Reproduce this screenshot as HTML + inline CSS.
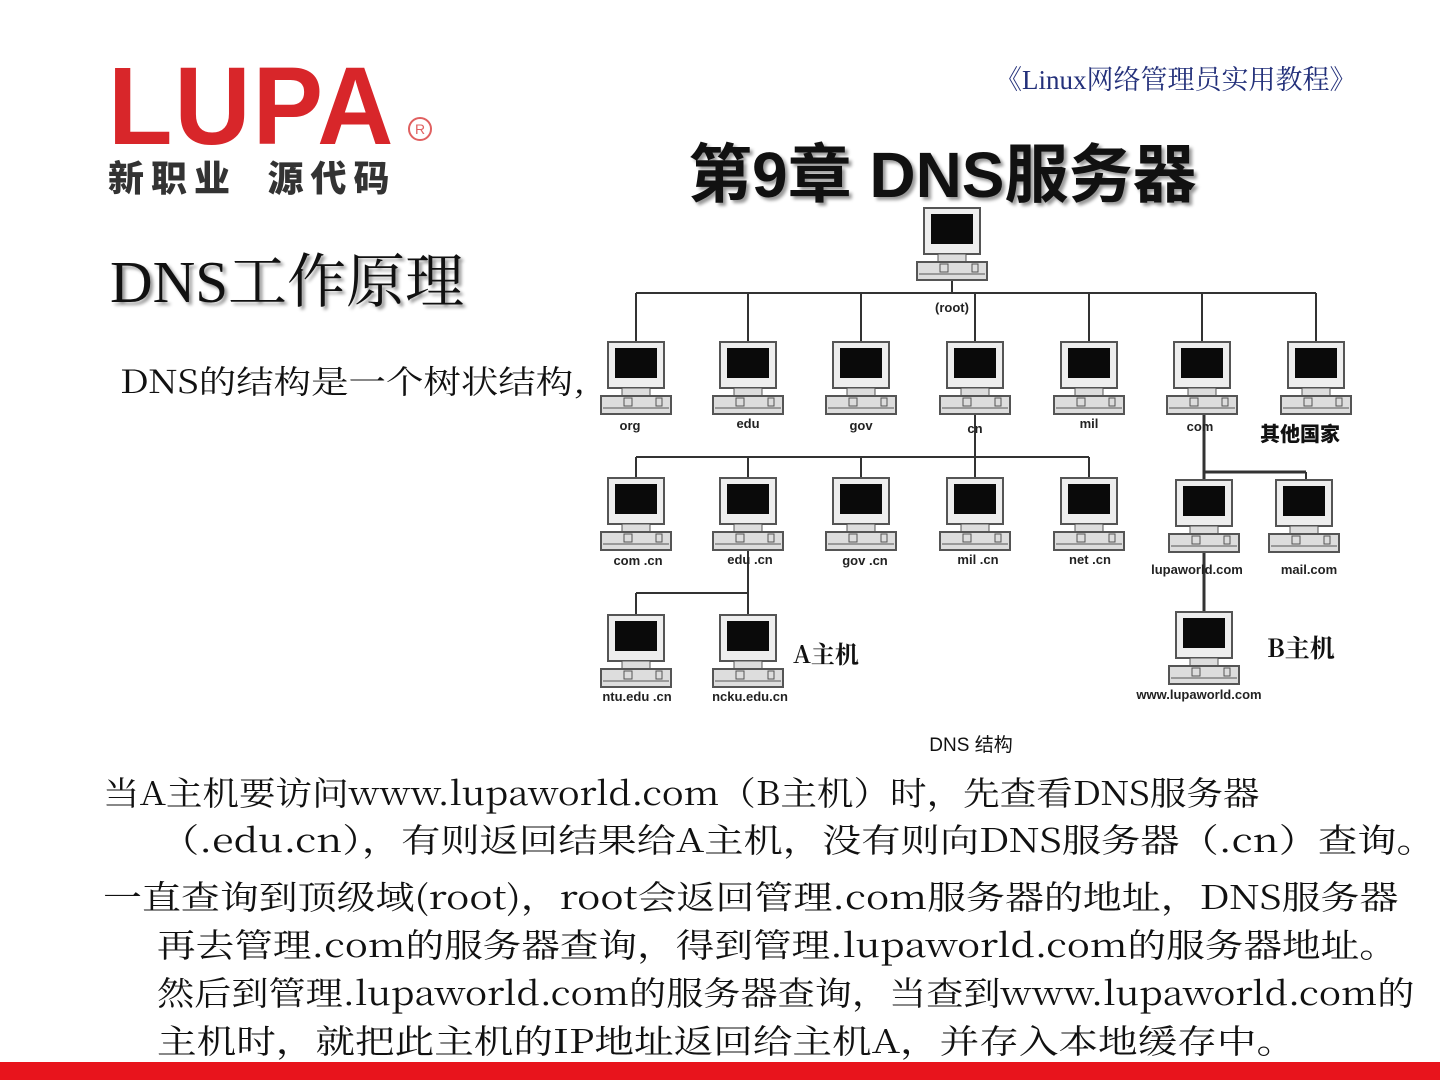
<!DOCTYPE html>
<html><head><meta charset="utf-8"><style>
body{margin:0;width:1440px;height:1080px;background:#fff;position:relative;overflow:hidden;font-family:"Liberation Serif","Noto Serif CJK SC",serif}
.a{position:absolute;white-space:nowrap}
.t{font-size:33px;color:#111;font-family:"Noto Serif CJK SC",serif;line-height:1;transform-origin:left}
.lbl{font-family:"Liberation Sans",sans-serif;font-size:13px;font-weight:bold;fill:#222}
</style></head><body>
<div class="a" style="left:108px;top:52px;font-family:'Liberation Sans',sans-serif;font-weight:900;font-size:110px;color:#d8262a;letter-spacing:2px;line-height:1;transform:scaleX(0.96);transform-origin:left">LUPA</div>
<div class="a" style="left:408px;top:117px;width:20px;height:20px;border:2px solid #e06060;border-radius:50%;color:#e06060;font:14px 'Liberation Sans',sans-serif;text-align:center;line-height:20px">R</div>
<div class="a" style="left:108px;top:150px;font-family:'Noto Sans CJK SC',sans-serif;font-weight:900;font-size:36px;color:#333;letter-spacing:7px">新职业&nbsp;&nbsp;源代码</div>
<div class="a" style="left:110px;top:234px;font-family:'Liberation Serif','Noto Serif CJK SC',serif;font-size:59px;color:#111;text-shadow:3px 3px 3px #999">DNS工作原理</div>
<div class="a" style="left:995px;top:58px;font-size:27px;color:#23307a;font-family:'Liberation Serif','Noto Serif CJK SC',serif">《Linux网络管理员实用教程》</div>
<div class="a" style="left:688px;top:124px;font-family:'Liberation Sans','Noto Sans CJK SC',sans-serif;font-weight:bold;font-size:64px;color:#111;text-shadow:3px 3px 3px #999;letter-spacing:0px">第9章 DNS服务器</div>
<div class="a t" style="left:120px;top:364px;font-size:32px;transform:scaleX(1.17)">DNS的结构是一个树状结构,</div>

<svg class="a" style="left:0;top:0" width="1440" height="1080">
<defs>
<g id="pc">
<rect x="-28" y="0" width="56" height="46" fill="#eee" stroke="#555" stroke-width="2"/>
<rect x="-21" y="6" width="42" height="30" fill="#0a0a0a"/>
<rect x="-14" y="46" width="28" height="8" fill="#ddd" stroke="#555"/>
<rect x="-35" y="54" width="70" height="18" fill="#ddd" stroke="#555" stroke-width="2"/>
<line x1="-33" y1="66" x2="33" y2="66" stroke="#555"/>
<rect x="-12" y="56" width="8" height="8" fill="none" stroke="#555"/>
<rect x="20" y="56" width="6" height="8" fill="none" stroke="#555"/>
</g>
</defs>
<g stroke="#333" stroke-width="2" fill="none">
<line x1="952" y1="272" x2="952" y2="293"/>
<line x1="636" y1="293" x2="1316" y2="293"/>
<line x1="636" y1="293" x2="636" y2="342"/><line x1="748" y1="293" x2="748" y2="342"/><line x1="861" y1="293" x2="861" y2="342"/><line x1="975" y1="293" x2="975" y2="342"/><line x1="1089" y1="293" x2="1089" y2="342"/><line x1="1202" y1="293" x2="1202" y2="342"/><line x1="1316" y1="293" x2="1316" y2="342"/>
<line x1="975" y1="414" x2="975" y2="457"/>
<line x1="636" y1="457" x2="1089" y2="457"/>
<line x1="636" y1="457" x2="636" y2="478"/><line x1="748" y1="457" x2="748" y2="478"/><line x1="861" y1="457" x2="861" y2="478"/><line x1="975" y1="457" x2="975" y2="478"/><line x1="1089" y1="457" x2="1089" y2="478"/>
<line x1="1204" y1="414" x2="1204" y2="480" stroke-width="3"/>
<line x1="1204" y1="472" x2="1306" y2="472" stroke-width="3"/>
<line x1="1306" y1="472" x2="1306" y2="480"/>
<line x1="748" y1="550" x2="748" y2="615"/>
<line x1="636" y1="593" x2="748" y2="593"/>
<line x1="636" y1="593" x2="636" y2="615"/>
<line x1="1204" y1="552" x2="1204" y2="612" stroke-width="3"/>
</g>
<use href="#pc" x="952" y="208"/>
<use href="#pc" x="636" y="342"/><use href="#pc" x="748" y="342"/><use href="#pc" x="861" y="342"/><use href="#pc" x="975" y="342"/><use href="#pc" x="1089" y="342"/><use href="#pc" x="1202" y="342"/><use href="#pc" x="1316" y="342"/>
<use href="#pc" x="636" y="478"/><use href="#pc" x="748" y="478"/><use href="#pc" x="861" y="478"/><use href="#pc" x="975" y="478"/><use href="#pc" x="1089" y="478"/><use href="#pc" x="1204" y="480"/><use href="#pc" x="1304" y="480"/>
<use href="#pc" x="636" y="615"/><use href="#pc" x="748" y="615"/><use href="#pc" x="1204" y="612"/>
<g class="lbl" text-anchor="middle">
<text x="952" y="312">(root)</text>
<text x="630" y="430">org</text><text x="748" y="428">edu</text><text x="861" y="430">gov</text><text x="975" y="433">cn</text><text x="1089" y="428">mil</text><text x="1200" y="431">com</text>
<text x="638" y="565">com .cn</text><text x="750" y="564">edu .cn</text><text x="865" y="565">gov .cn</text><text x="978" y="564">mil .cn</text><text x="1090" y="564">net .cn</text>
<text x="1197" y="574">lupaworld.com</text><text x="1309" y="574">mail.com</text>
<text x="637" y="701">ntu.edu .cn</text><text x="750" y="701">ncku.edu.cn</text><text x="1199" y="699">www.lupaworld.com</text>
</g>
<text x="1300" y="441" text-anchor="middle" font-family="Noto Sans CJK SC,sans-serif" font-weight="900" font-size="20" fill="#111">其他国家</text>
<text x="793" y="663" font-family="Noto Serif CJK SC,serif" font-weight="bold" font-size="24" fill="#111">A主机</text>
<text x="1267" y="657" font-family="Noto Serif CJK SC,serif" font-weight="bold" font-size="25" fill="#111">B主机</text>
<text x="971" y="751" text-anchor="middle" font-family="Liberation Sans,Noto Sans CJK SC,sans-serif" font-size="19" fill="#111">DNS 结构</text>
</svg>

<div class="a t" style="left:103px;top:775px;transform:scaleX(1.108)">当A主机要访问www.lupaworld.com（B主机）时，先查看DNS服务器</div>
<div class="a t" style="left:160px;top:822px;transform:scaleX(1.19)">（.edu.cn），有则返回结果给A主机，没有则向DNS服务器（.cn）查询。</div>
<div class="a t" style="left:103px;top:879px;transform:scaleX(1.18)">一直查询到顶级域(root)，root会返回管理.com服务器的地址，DNS服务器</div>
<div class="a t" style="left:157px;top:927px;transform:scaleX(1.17)">再去管理.com的服务器查询，得到管理.lupaworld.com的服务器地址。</div>
<div class="a t" style="left:157px;top:975px;transform:scaleX(1.126)">然后到管理.lupaworld.com的服务器查询，当查到www.lupaworld.com的</div>
<div class="a t" style="left:157px;top:1023px;transform:scaleX(1.2)">主机时，就把此主机的IP地址返回给主机A，并存入本地缓存中。</div>
<div class="a" style="left:0;top:1062px;width:1440px;height:18px;background:#e8141c"></div>
</body></html>
